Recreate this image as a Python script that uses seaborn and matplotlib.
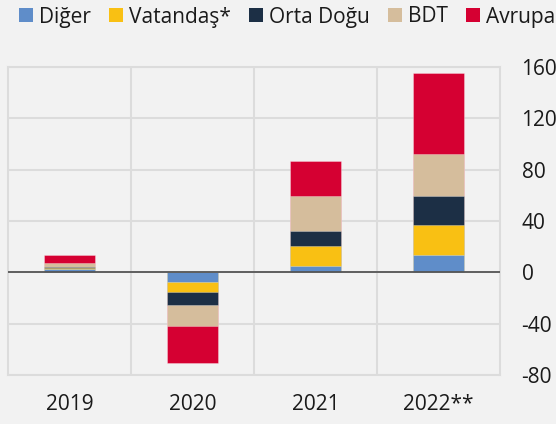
import numpy as np
import pandas as pd
import matplotlib
matplotlib.use("Agg")
import matplotlib.pyplot as plt
from matplotlib.patches import Patch
import seaborn as sns

years = ["2019", "2020", "2021", "2022**"]
series = ["Diğer", "Vatandaş*", "Orta Doğu", "BDT", "Avrupa"]
diger = [2.3, -7.3, 4.7, 13.3]
vatandas = [0.8, -8.4, 16.2, 23.3]
orta_dogu = [1.2, -9.4, 11.0, 22.5]
bdt = [3.1, -17.0, 27.5, 33.0]
avrupa = [6.0, -28.5, 27.5, 63.0]
colors = ["#5f8dc9", "#f9c013", "#1c2f45", "#d5bd9c", "#d50032"]
yticks = [-80, -40, 0, 40, 80, 120, 160]

sns.set_theme(style="white")
plt.rcParams["font.family"] = ["Open Sans", "DejaVu Sans"]

df = pd.DataFrame({"year": years, "Diğer": diger, "Vatandaş*": vatandas,
                   "Orta Doğu": orta_dogu, "BDT": bdt, "Avrupa": avrupa})
cum = df[series].cumsum(axis=1)

bg = "#f2f2f2"
fig = plt.figure(figsize=(5.56, 4.24), dpi=100, facecolor=bg)
ax = fig.add_axes([8/556, 1-375/424, (500-8)/556, (375-67)/424])
ax.set_facecolor(bg)

# draw from outermost cumulative layer down to the first one
for name, col in reversed(list(zip(series, colors))):
    sns.barplot(x=df["year"], y=cum[name], order=years, color=col, saturation=1,
                width=0.41, errorbar=None, ax=ax, linewidth=0.6,
                edgecolor=(1, 1, 1, 0.35), zorder=3)

ax.set_xlim(-0.5, 3.5)
ax.set_ylim(-80, 160)
ax.set_yticks(yticks)
ax.set_yticklabels([str(v) for v in yticks])
ax.yaxis.tick_right()
ax.tick_params(axis="y", length=0, pad=15.5, labelsize=15, colors="#1a1a1a")
ax.tick_params(axis="x", length=0, pad=14, labelsize=15, colors="#1a1a1a")
ax.set_xlabel("")
ax.set_ylabel("")

ax.set_xticks([0.5, 1.5, 2.5], minor=True)
ax.grid(True, which="minor", axis="x", color="#dcdcdc", linewidth=1.5, zorder=0)
ax.grid(True, which="major", axis="y", color="#dcdcdc", linewidth=1.5, zorder=0)
ax.tick_params(which="minor", length=0)
ax.set_axisbelow(True)
ax.axhline(0, color="#555555", linewidth=1.3, zorder=4)
for s in ax.spines.values():
    s.set_visible(True)
    s.set_color("#dcdcdc")
    s.set_linewidth(1.5)

handles = [Patch(facecolor=c, edgecolor="none", label=n) for n, c in zip(series, colors)]
fig.legend(handles=handles, loc="center left", bbox_to_anchor=(19/556, 1-17/424),
           ncol=5, frameon=False, fontsize=15, handlelength=0.68, handleheight=0.68,
           handletextpad=0.3, columnspacing=0.85, borderpad=0, borderaxespad=0,
           labelcolor="#1a1a1a")

fig.savefig("out.png", dpi=100, facecolor=bg)
